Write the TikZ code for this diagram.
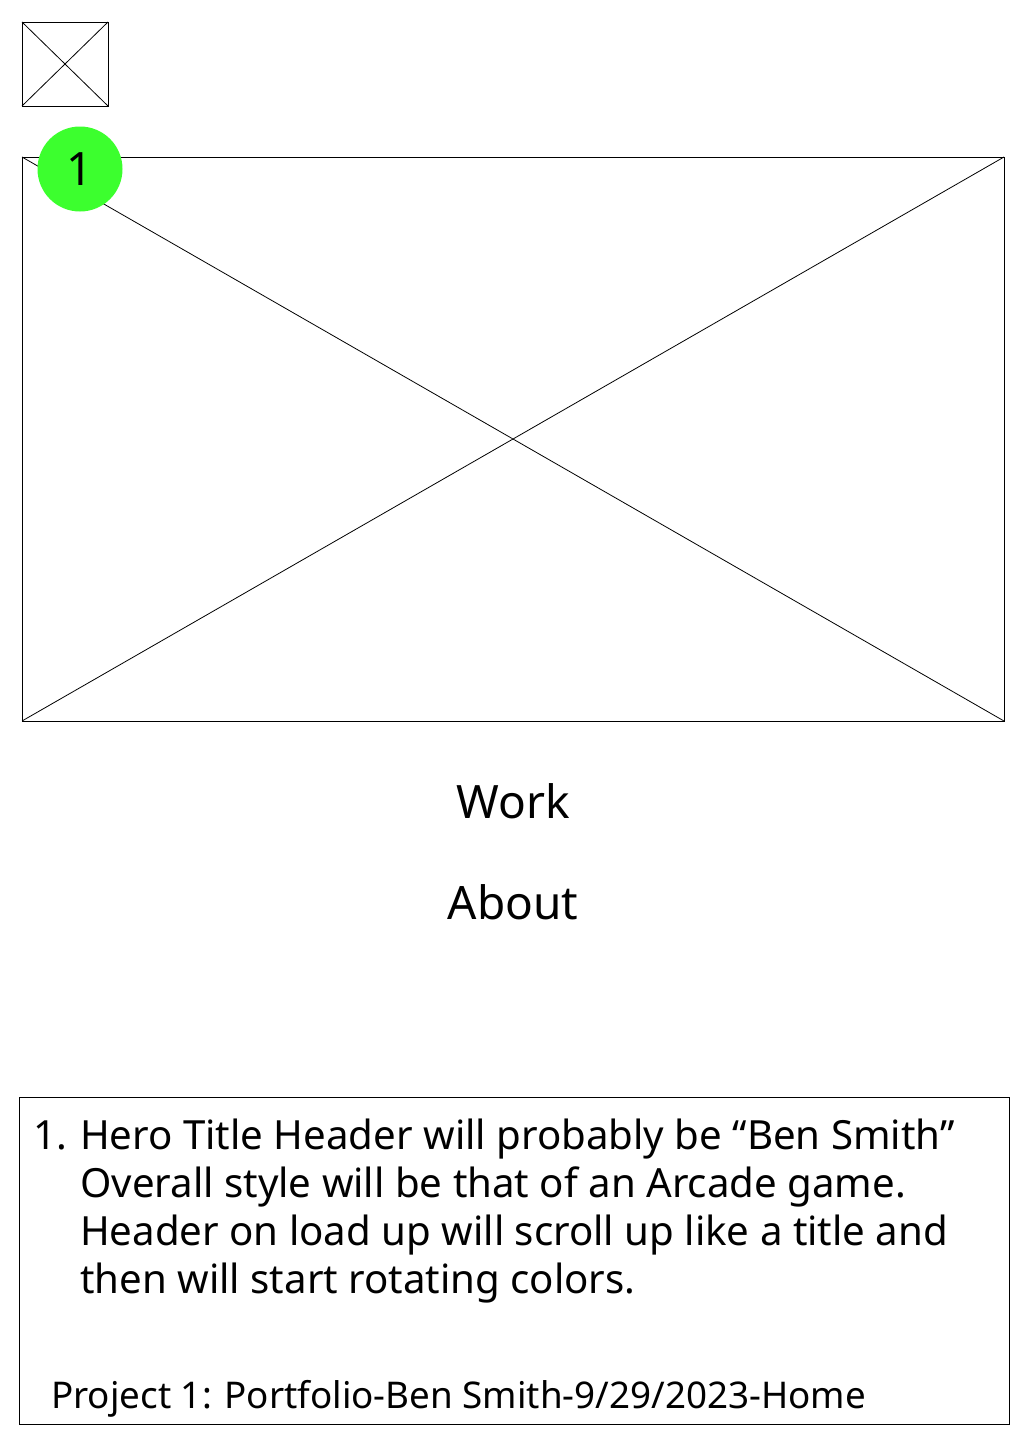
\documentclass[tikz,border=0pt]{standalone}
\usepackage{fontspec}
\setmainfont{Noto Sans}
\definecolor{badge}{RGB}{60,255,46}
\begin{document}
\begin{tikzpicture}[x=1pt,y=-1pt,
  frame/.style={draw=black,line width=1pt},
  cross/.style={draw=black,line width=0.8pt},
  txt/.style={inner sep=0pt,font=\fontsize{40.2}{48}\selectfont},
  navtxt/.style={inner sep=0pt,font=\fontsize{46}{55}\selectfont,anchor=base}]
\useasboundingbox[fill=white] (0,0) rectangle (1024,1454);
% small placeholder image
\coordinate (s1) at (22,22);
\coordinate (s2) at (108,106);
\draw[frame] (s1) rectangle (s2);
\draw[cross] (s1) -- (s2) (22,106) -- (108,22);
% hero image
\coordinate (h1) at (22,157);
\coordinate (h2) at (1004,721);
\draw[frame] (h1) rectangle (h2);
\draw[cross] (h1) -- (h2) (22,721) -- (1004,157);
% badge
\node[circle,fill=badge,minimum size=85pt,inner sep=0pt,font=\fontsize{46}{52}\selectfont] (b1) at (80,169) {1};
% nav
\node[navtxt] (work) at (513,818) {Work};
\node[navtxt] (about) at (513,919) {About};
% notes box
\draw[frame] (19,1097) rectangle (1009,1424);
\node[txt,anchor=base west] (n0) at (33,1149) {1.};
\node[txt,anchor=base west] (n1) at (80,1149) {Hero Title Header will probably be “Ben Smith”};
\node[txt,anchor=base west] (n2) at (80,1197) {Overall style will be that of an Arcade game.};
\node[txt,anchor=base west] (n3) at (80,1245) {Header on load up will scroll up like a title and};
\node[txt,anchor=base west] (n4) at (80,1293) {then will start rotating colors.};
\node[txt,anchor=base west,font=\fontsize{36.8}{44}\selectfont] (foot) at (51,1408) {Project 1: Portfolio-Ben Smith-9/29/2023-Home};
\end{tikzpicture}
\end{document}
